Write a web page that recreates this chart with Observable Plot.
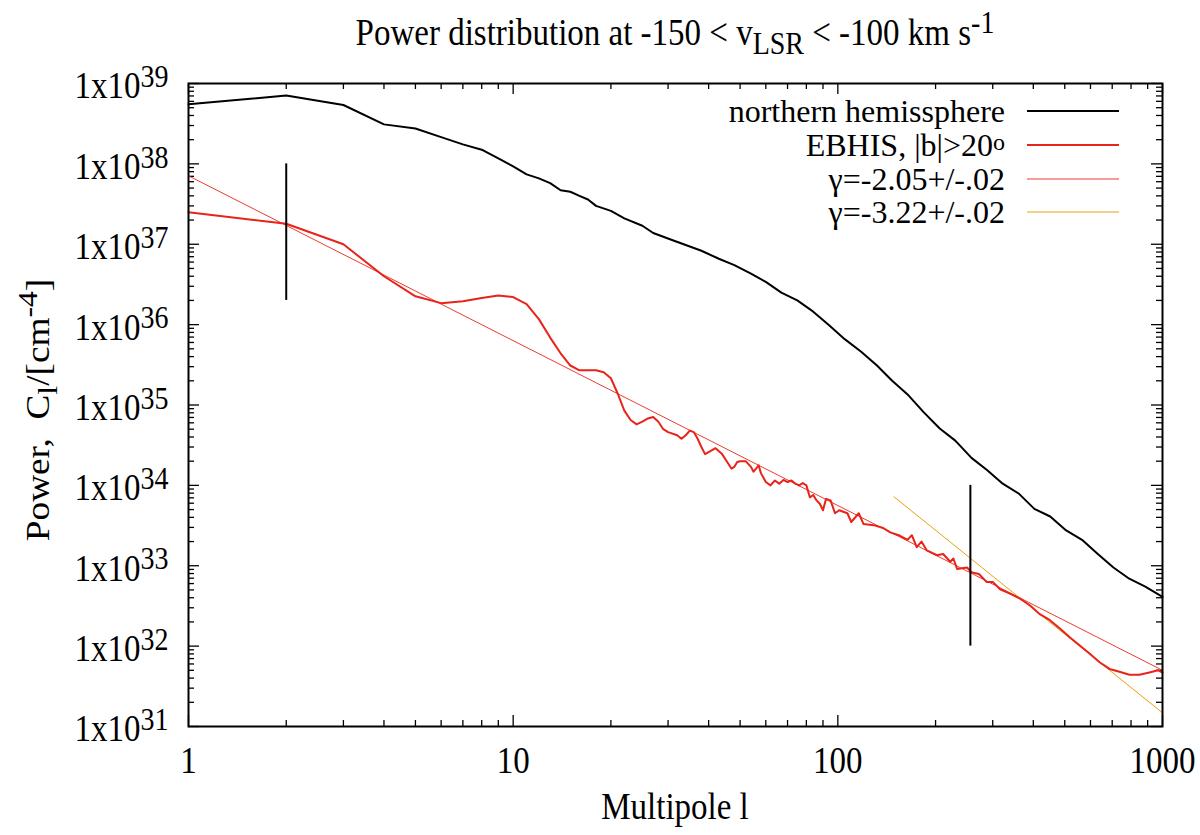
<!DOCTYPE html>
<html><head><meta charset="utf-8">
<script src="https://cdn.jsdelivr.net/npm/d3@7"></script>
<script src="https://cdn.jsdelivr.net/npm/@observablehq/plot@0.6"></script>
<style>
html,body{margin:0;padding:0;background:#fff;}
#chart{position:relative;width:1200px;height:835px;}
#chart svg text{font-family:"Liberation Serif","DejaVu Serif","Times New Roman",Times,serif !important;}
</style></head><body><div id="chart"></div>
<script>
// ---- data ----
const blackL = [1,2,3,4,5,6,7,8,9,10,11,12,13,14,15,16,17,18,20,22,25,27,31,34,38,43,48,54,60,67,75,84,94,105,118,132,147,165,184,206,230,258,288,322,361,403,451,505,565,632,706,790,885,1000];
const blackP = [5.5e38,7.1e38,5.4e38,3.1e38,2.75e38,2.15e38,1.75e38,1.5e38,1.17e38,9.3e37,7.4e37,6.6e37,5.75e37,4.7e37,4.5e37,4.0e37,3.6e37,3.0e37,2.6e37,2.1e37,1.7e37,1.38e37,1.12e37,9.8e36,8.3e36,6.6e36,5.5e36,4.3e36,3.4e36,2.5e36,2.0e36,1.45e36,9.8e35,6.6e35,4.6e35,3.1e35,2.0e35,1.32e35,8.1e34,5.1e34,3.6e34,2.2e34,1.55e34,1.05e34,7.9e33,5.1e33,4.1e33,2.75e33,2.1e33,1.4e33,9.5e32,6.9e32,5.5e32,4.1e32];

const redL = [1,2,3,4,5,6,7,8,9,10,11,12,13,14,15,16,17,18,19,20,21,22,23,24,25,26,27,28,29,30,32,33,34,35,36,37,38,39,40,42,44,46,47,48,49,50,52,54,55,56,57,58,60,62,64,66,68,70,72,74,76,78,80,82,84,86,88,90,92,95,98,101,107,110,116,120,129,138,145,154,164,169,175,181,188,202,211,222,227,233,250,258,272,287,300,316,339,364,391,419,450,483,518,556,596,640,687,737,791,849,911,969,1000];
const redP = [2.5e37,1.8e37,1.0e37,4.0e36,2.25e36,1.85e36,1.95e36,2.15e36,2.3e36,2.2e36,1.8e36,1.17e36,6.9e35,4.4e35,3.1e35,2.7e35,2.7e35,2.7e35,2.55e35,2.15e35,1.38e35,8.5e34,6.5e34,5.75e34,6.2e34,6.8e34,7.1e34,6.2e34,5.0e34,4.6e34,4.2e34,3.8e34,4.2e34,4.8e34,4.6e34,3.8e34,3.0e34,2.45e34,2.6e34,2.9e34,2.45e34,1.86e34,1.62e34,1.7e34,1.95e34,2.0e34,2.0e34,1.7e34,1.48e34,1.62e34,1.78e34,1.41e34,1.1e34,1.0e34,1.15e34,1.05e34,1.17e34,1.1e34,1.15e34,1.05e34,1.0e34,1.07e34,1.0e34,7.1e33,7.6e33,6.5e33,5.9e33,4.9e33,6.8e33,6.5e33,4.5e33,4.9e33,4.5e33,3.5e33,4.5e33,3.3e33,3.2e33,2.95e33,2.6e33,2.4e33,2.1e33,2.4e33,1.7e33,2.0e33,1.55e33,1.35e33,1.4e33,1.12e33,1.23e33,9.1e32,9.5e32,8.3e32,7.9e32,6.3e32,6.3e32,5.1e32,4.5e32,3.9e32,3.2e32,2.5e32,2.1e32,1.66e32,1.29e32,1.02e32,8.1e31,6.3e31,5.2e31,4.8e31,4.4e31,4.4e31,4.7e31,5.0e31,4.7e31];

const fit1L = [1, 1000];
const fit1P = [7.1e37, 5.0e31];
const fit2L = [149, 1000];
const fit2P = [7.2e33, 1.48e31];

const markerL = [2, 256];
const markerLo = [2e36, 1e32];
const markerHi = [1e38, 1e34];

const xTickValues = [1, 10, 100, 1000];
const xTickLabels = ["1", "10", "100", "1000"];
const yTickValues = [1e31,1e32,1e33,1e34,1e35,1e36,1e37,1e38,1e39];
const yTickLabels = ["1x10^31","1x10^32","1x10^33","1x10^34","1x10^35","1x10^36","1x10^37","1x10^38","1x10^39"];

const legendLabels = ["northern hemissphere", "EBHIS, |b|>20^o", "γ=-2.05+/-.02", "γ=-3.22+/-.02"];
const legendColors = ["#000000", "#e8231a", "#ee3b30", "#eaa010"];
const legendWidths = [2, 2, 1, 1];

// ---- layout ----
const W = 1200, H = 835;
const mL = 188, mR = 38, mT = 83, mB = 109;
const PW = W - mL - mR, PH = H - mT - mB;
const FONT = "Liberation Serif, DejaVu Serif, Times New Roman, serif";
const FS = 33;
const STRETCH = 1.13; // the reference text is taller than it is wide

const toRows = (L, P) => L.map((l, i) => ({l, p: P[i]}));

const xMinor = [], yMinor = [];
for (const d of [1, 10, 100]) for (let k = 2; k <= 9; k++) xMinor.push(d * k);
for (const d of yTickValues.slice(0, -1)) for (let k = 2; k <= 9; k++) yMinor.push(d * k);

const majorLen = 11, minorLen = 6;
const tickStyle = {stroke: "black", strokeWidth: 1.3};

const plot = Plot.plot({
  width: W, height: H,
  marginLeft: mL, marginRight: mR, marginTop: mT, marginBottom: mB,
  style: {fontFamily: FONT, fontSize: FS + "px", background: "white", color: "black", overflow: "visible"},
  x: {type: "log", domain: [1, 1000]},
  y: {type: "log", domain: [1e31, 1e39]},
  marks: [
    Plot.ruleX(xTickValues, {...tickStyle, insetTop: PH - majorLen}),
    Plot.ruleX(xTickValues, {...tickStyle, insetBottom: PH - majorLen}),
    Plot.ruleX(xMinor, {...tickStyle, insetTop: PH - minorLen}),
    Plot.ruleX(xMinor, {...tickStyle, insetBottom: PH - minorLen}),
    Plot.ruleY(yTickValues, {...tickStyle, insetRight: PW - majorLen}),
    Plot.ruleY(yTickValues, {...tickStyle, insetLeft: PW - majorLen}),
    Plot.ruleY(yMinor, {...tickStyle, insetRight: PW - minorLen}),
    Plot.ruleY(yMinor, {...tickStyle, insetLeft: PW - minorLen}),
    Plot.line(toRows(fit1L, fit1P), {x: "l", y: "p", stroke: legendColors[2], strokeWidth: 1}),
    Plot.line(toRows(fit2L, fit2P), {x: "l", y: "p", stroke: legendColors[3], strokeWidth: 1}),
    Plot.line(toRows(blackL, blackP), {x: "l", y: "p", stroke: legendColors[0], strokeWidth: 2}),
    Plot.line(toRows(redL, redP), {x: "l", y: "p", stroke: legendColors[1], strokeWidth: 2}),
    Plot.ruleX(markerL.map((l, i) => ({l, lo: markerLo[i], hi: markerHi[i]})), {x: "l", y1: "lo", y2: "hi", stroke: "black", strokeWidth: 2}),
    Plot.axisX(xTickValues, {anchor: "bottom", tickSize: 0, tickPadding: 20, label: null,
      tickFormat: d => xTickLabels[xTickValues.indexOf(d)]}),
    Plot.axisY(yTickValues, {anchor: "left", tickSize: 0, tickPadding: 20, label: null, dy: 3,
      tickFormat: d => yTickLabels[yTickValues.indexOf(d)]}),
    Plot.frame({stroke: "black", strokeWidth: 2})
  ]
});
document.getElementById("chart").appendChild(plot);

const svg = d3.select(plot);
svg.selectAll('g[aria-label="y-axis tick label"] text').each(function () {
  const t = d3.select(this);
  const [base, exp] = t.text().split("^");
  t.text(base);
  t.append("tspan").attr("dy", "-10").attr("font-size", Math.round(FS * 0.85) + "px").text(exp);
});
svg.selectAll('g[aria-label="y-axis tick label"] text, g[aria-label="x-axis tick label"] text').each(function () {
  const tr = this.getAttribute("transform") || "";
  this.setAttribute("transform", tr + ` scale(1,${STRETCH})`);
});

function richText(g, parts, transform, anchor, fs = FS) {
  const t = g.append("text").attr("font-size", fs + "px").attr("fill", "black")
    .attr("transform", transform).attr("text-anchor", anchor).style("white-space", "pre");
  let cur = 0;
  for (const [s, shift, scale] of parts) {
    const sp = t.append("tspan").attr("dy", shift - cur).text(s);
    if (scale !== 1) sp.attr("font-size", Math.round(fs * scale) + "px");
    cur = shift;
  }
  return t;
}

const cx = (mL + W - mR) / 2;
richText(svg, [["Power distribution at -150 < v", 0, 1], ["LSR", 8, 0.85], [" < -100 km s", 0, 1], ["-1", -11, 0.85]],
  `translate(${cx},45) scale(1,${STRETCH})`, "middle");
richText(svg, [["Multipole l", 0, 1]], `translate(${cx},819) scale(1,${STRETCH})`, "middle");
richText(svg, [["Power,  C", 0, 1], ["l", 8, 0.85], ["/[cm", 0, 1], ["-4", -12, 0.85], ["]", 0, 1]],
  `translate(49,410) rotate(-90) scale(${STRETCH},1)`, "middle");

const legRowY = [111, 145, 179, 212];
const leg = svg.append("g");
legendLabels.forEach((lab, i) => {
  const y = legRowY[i];
  const parts = lab.includes("^") ? [[lab.split("^")[0], 0, 1], [lab.split("^")[1], -6, 0.75]] : [[lab, 0, 1]];
  richText(leg, parts, `translate(1005,${y + 11})`, "end", 32);
  leg.append("line").attr("x1", 1027).attr("x2", 1119).attr("y1", y).attr("y2", y)
    .attr("stroke", legendColors[i]).attr("stroke-width", legendWidths[i]);
});
</script></body></html>
